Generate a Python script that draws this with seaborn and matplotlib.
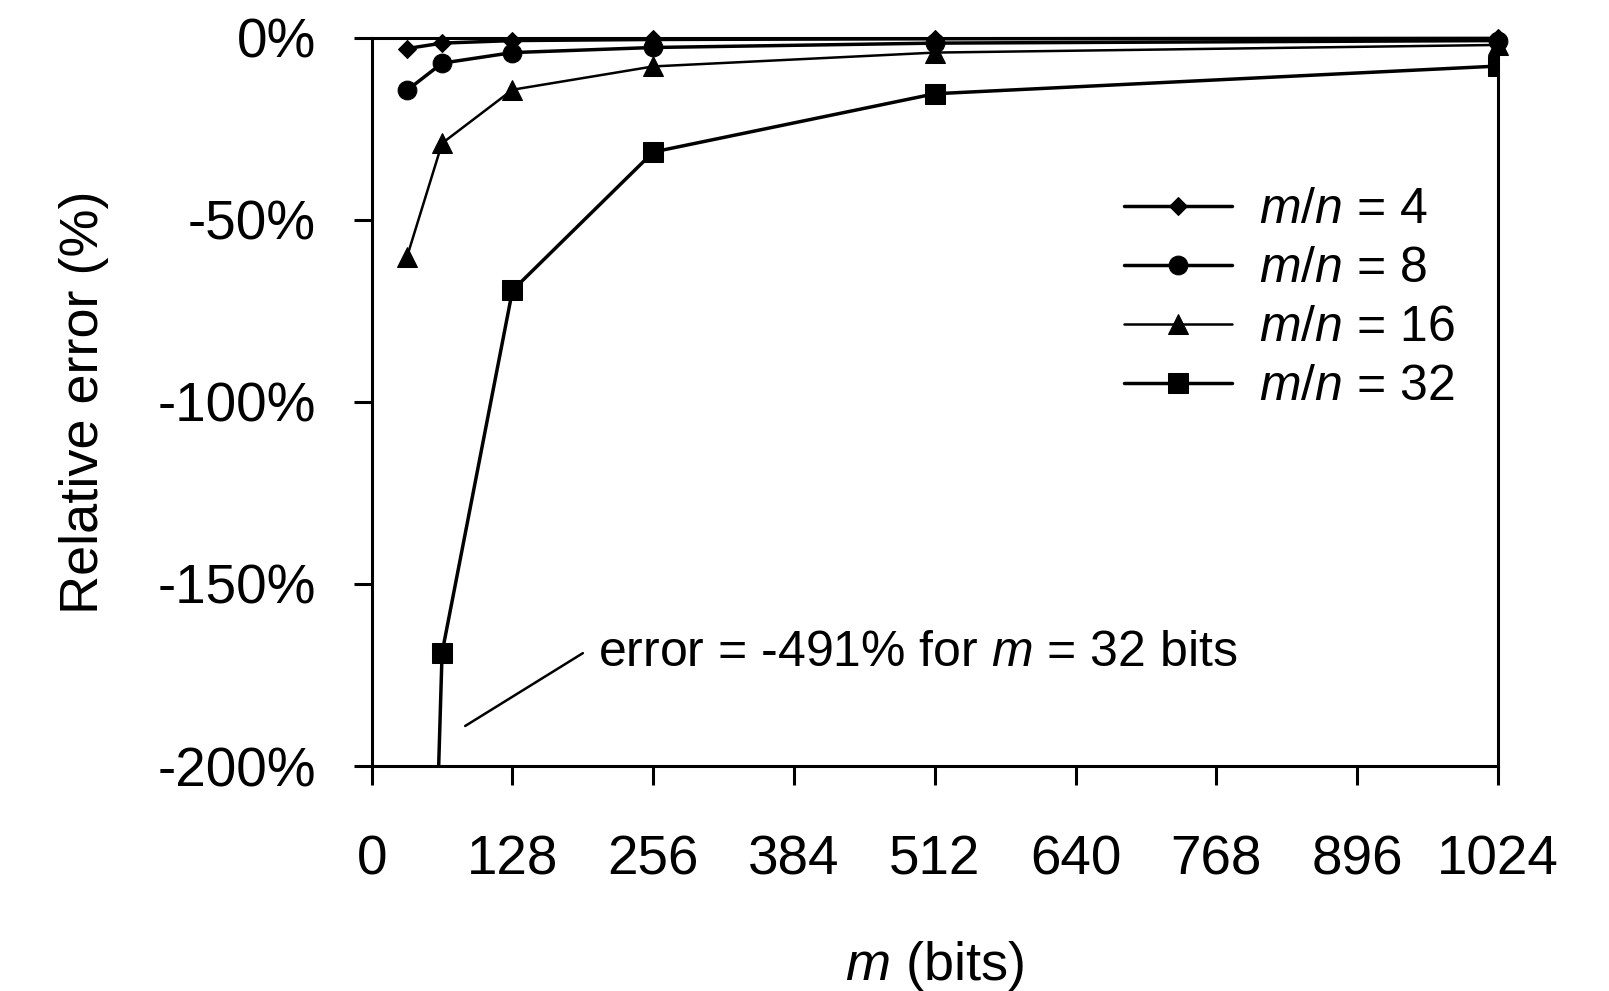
import pandas as pd
import matplotlib
matplotlib.use("Agg")
import matplotlib.pyplot as plt
import seaborn as sns

# m (bits) en el eje x
m_bits = [32, 64, 128, 256, 512, 1024]

# error relativo (%) por razón m/n
err_mn4 = [-3.0, -1.5, -0.8, -0.5, -0.3, -0.2]
err_mn8 = [-14.5, -7.0, -4.1, -2.7, -1.5, -0.8]
err_mn16 = [-60.3, -29.0, -14.3, -7.9, -4.1, -2.0]
err_mn32 = [-491.0, -168.9, -69.4, -31.4, -15.4, -7.8]

ratios = [4, 8, 16, 32]
series = [err_mn4, err_mn8, err_mn16, err_mn32]

x_ticks = [0, 128, 256, 384, 512, 640, 768, 896, 1024]
y_ticks = [0, -50, -100, -150, -200]
y_tick_labels = ["0%", "-50%", "-100%", "-150%", "-200%"]

rows = []
for r, vals in zip(ratios, series):
    for m, v in zip(m_bits, vals):
        rows.append({"m": m, "err": v, "ratio": r})
df = pd.DataFrame(rows)

sns.set_style("ticks")
plt.rcParams["font.family"] = ["Liberation Sans", "DejaVu Sans"]
plt.rcParams["mathtext.fontset"] = "custom"
plt.rcParams["mathtext.it"] = "Liberation Sans:italic"
plt.rcParams["mathtext.rm"] = "Liberation Sans"
plt.rcParams["text.color"] = "black"
plt.rcParams["axes.labelcolor"] = "black"
plt.rcParams["xtick.color"] = "black"
plt.rcParams["ytick.color"] = "black"

fig = plt.figure(figsize=(16.09, 9.91), dpi=100)
ax = fig.add_axes([0.231, 0.227, 0.70, 0.735])

markers = {4: "D", 8: "o", 16: "^", 32: "s"}
msizes = {4: 9, 8: 13.5, 16: 14, 32: 15}
lwidths = {4: 2.5, 8: 2.5, 16: 1.8, 32: 2.5}

handles = []
for r in ratios:
    sub = df[df["ratio"] == r]
    n_before = len(ax.lines)
    sns.lineplot(data=sub, x="m", y="err", ax=ax, color="black",
                 marker=markers[r], markersize=msizes[r],
                 markeredgecolor="black", markerfacecolor="black",
                 linewidth=lwidths[r], errorbar=None, legend=False)
    line = ax.lines[n_before]
    # la serie 32 sale del eje (-491%), se recorta
    if r != 32:
        line.set_clip_on(False)
    line.set_label(f"$m/n$ = {r}")
    handles.append(line)

ax.set_xlim(0, 1024)
ax.set_ylim(-200, 0)
ax.set_xticks(x_ticks)
ax.set_xticklabels([str(t) for t in x_ticks])
ax.set_yticks(y_ticks)
ax.set_yticklabels(y_tick_labels)

for side in ["left", "right", "top", "bottom"]:
    ax.spines[side].set_linewidth(2.2)
    ax.spines[side].set_color("black")
ax.tick_params(axis="both", which="major", labelsize=39.5, width=2.2,
               color="black", labelcolor="black", direction="out")
ax.tick_params(axis="y", length=13, pad=27)
ax.tick_params(axis="x", length=14, pad=35)

ax.set_xlabel("$m$ (bits)", fontsize=39)
ax.set_ylabel("Relative error (%)", fontsize=39)
ax.xaxis.set_label_coords(0.5, -0.275)
ax.xaxis.label.set_va("center")
ax.yaxis.set_label_coords(-0.255, 0.5)
ax.yaxis.label.set_va("center")

leg = ax.legend(handles=handles, labels=[h.get_label() for h in handles],
                loc="upper left", bbox_to_anchor=(0.6986, 0.811),
                bbox_transform=fig.transFigure, frameon=False,
                fontsize=36, handlelength=2.15, handletextpad=0.55,
                labelspacing=0.26, borderpad=0, borderaxespad=0)

# anotación del valor fuera de escala
ax.plot([85, 192], [-189, -169], color="black", linewidth=1.8)
ax.text(206, -169, "error = -491% for $m$ = 32 bits", fontsize=36,
        va="center", ha="left")

fig.savefig("out.png", dpi=100, facecolor="white")
